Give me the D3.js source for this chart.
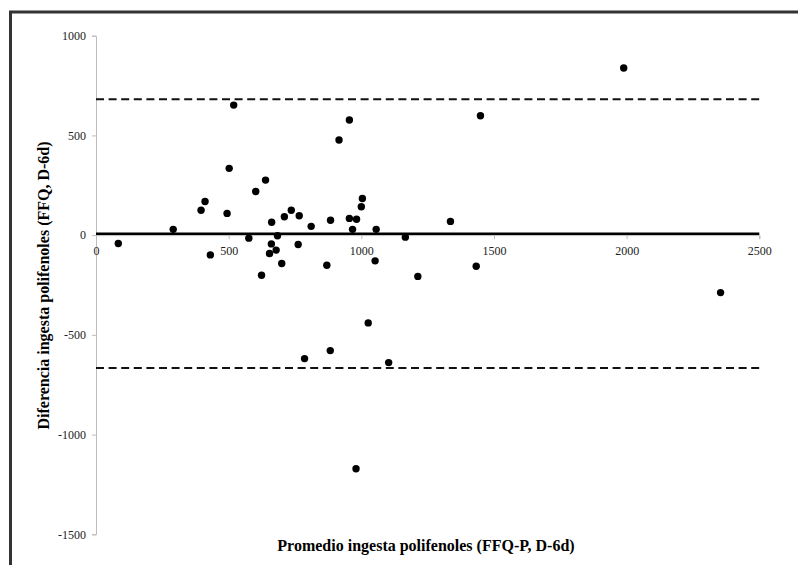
<!DOCTYPE html>
<html>
<head>
<meta charset="utf-8">
<script src="https://cdn.jsdelivr.net/npm/d3@7"></script>
<style>
  body { margin: 0; background: #fff; }
  svg { display: block; }
</style>
</head>
<body>
<svg id="chart"></svg>
<script>
// Bland-Altman: promedio (x) vs diferencia (y)
const promedio = [84, 291, 396, 411, 431, 494, 502, 519, 576, 602, 639, 624, 662, 661, 654, 679, 684, 700,
  710, 736, 766, 762, 811, 870, 884, 916, 955, 955, 967, 982, 1000, 1004, 1056, 1052,
  786, 883, 1026, 1103, 980, 1989, 1449, 1336, 1166, 1433, 1213, 2354];
const diferencia = [-42, 29, 125, 169, -99, 109, 335, 652, -15, 219, 276, -201, 65, -44, -92, -75, -3, -142,
  92, 125, 97, -47, 44, -151, 75, 477, 577, 84, 29, 80, 142, 184, 29, -129,
  -619, -579, -440, -639, -1171, 838, 599, 69, -10, -156, -207, -288];
const meanDiff = 7.5;
const limits = [681, -666];
const xTicks = [0, 500, 1000, 1500, 2000, 2500];
const yTicks = [1000, 500, 0, -500, -1000, -1500];

const W = 798, H = 565;
const svg = d3.select("#chart").attr("width", W).attr("height", H);

// outer frame
svg.append("rect")
  .attr("x", 10.5).attr("y", 12)
  .attr("width", W + 20).attr("height", H + 20)
  .attr("fill", "none").attr("stroke", "#333").attr("stroke-width", 3);

const x = d3.scaleLinear().domain([0, 2500]).range([96, 759.3]);
const y = d3.scaleLinear().domain([-1500, 1000]).range([534.3, 35.7]);

const font = "'Liberation Serif', 'Times New Roman', serif";
const fmt = d => String(d);

const gy = svg.append("g")
  .attr("transform", `translate(${x(0)},0)`)
  .call(d3.axisLeft(y).tickValues(yTicks).tickFormat(fmt).tickSize(4).tickPadding(6));

const gx = svg.append("g")
  .attr("transform", `translate(0,${y(0)})`)
  .call(d3.axisBottom(x).tickValues(xTicks).tickFormat(fmt).tickSize(4).tickPadding(7.5));

[gx, gy].forEach(g => {
  g.attr("font-family", font).attr("font-size", 12);
  g.select(".domain").attr("stroke", "#bdbdbd");
  g.selectAll(".tick line").attr("stroke", "#bdbdbd");
  g.selectAll(".tick text").attr("fill", "#222");
});

// limits of agreement
svg.selectAll(".limit")
  .data(limits)
  .join("line")
  .attr("x1", x(0)).attr("x2", x(2500))
  .attr("y1", d => y(d)).attr("y2", d => y(d))
  .attr("stroke", "#111").attr("stroke-width", 2)
  .attr("stroke-dasharray", "8,4.6");

// mean difference
svg.append("line")
  .attr("x1", x(0)).attr("x2", x(2500))
  .attr("y1", y(meanDiff)).attr("y2", y(meanDiff))
  .attr("stroke", "#000").attr("stroke-width", 2.5);

svg.selectAll(".pt")
  .data(promedio)
  .join("circle")
  .attr("cx", d => x(d))
  .attr("cy", (d, i) => y(diferencia[i]))
  .attr("r", 3.7)
  .attr("fill", "#000");

svg.append("text")
  .attr("x", 426).attr("y", 551)
  .attr("text-anchor", "middle")
  .style("font-family", font).style("font-size", "16px").style("font-weight", "bold")
  .text("Promedio ingesta polifenoles (FFQ-P, D-6d)");

svg.append("text")
  .attr("transform", "translate(49,285.5) rotate(-90)")
  .attr("text-anchor", "middle")
  .style("font-family", font).style("font-size", "16px").style("font-weight", "bold")
  .text("Diferencia ingesta polifenoles (FFQ, D-6d)");
</script>
</body>
</html>
